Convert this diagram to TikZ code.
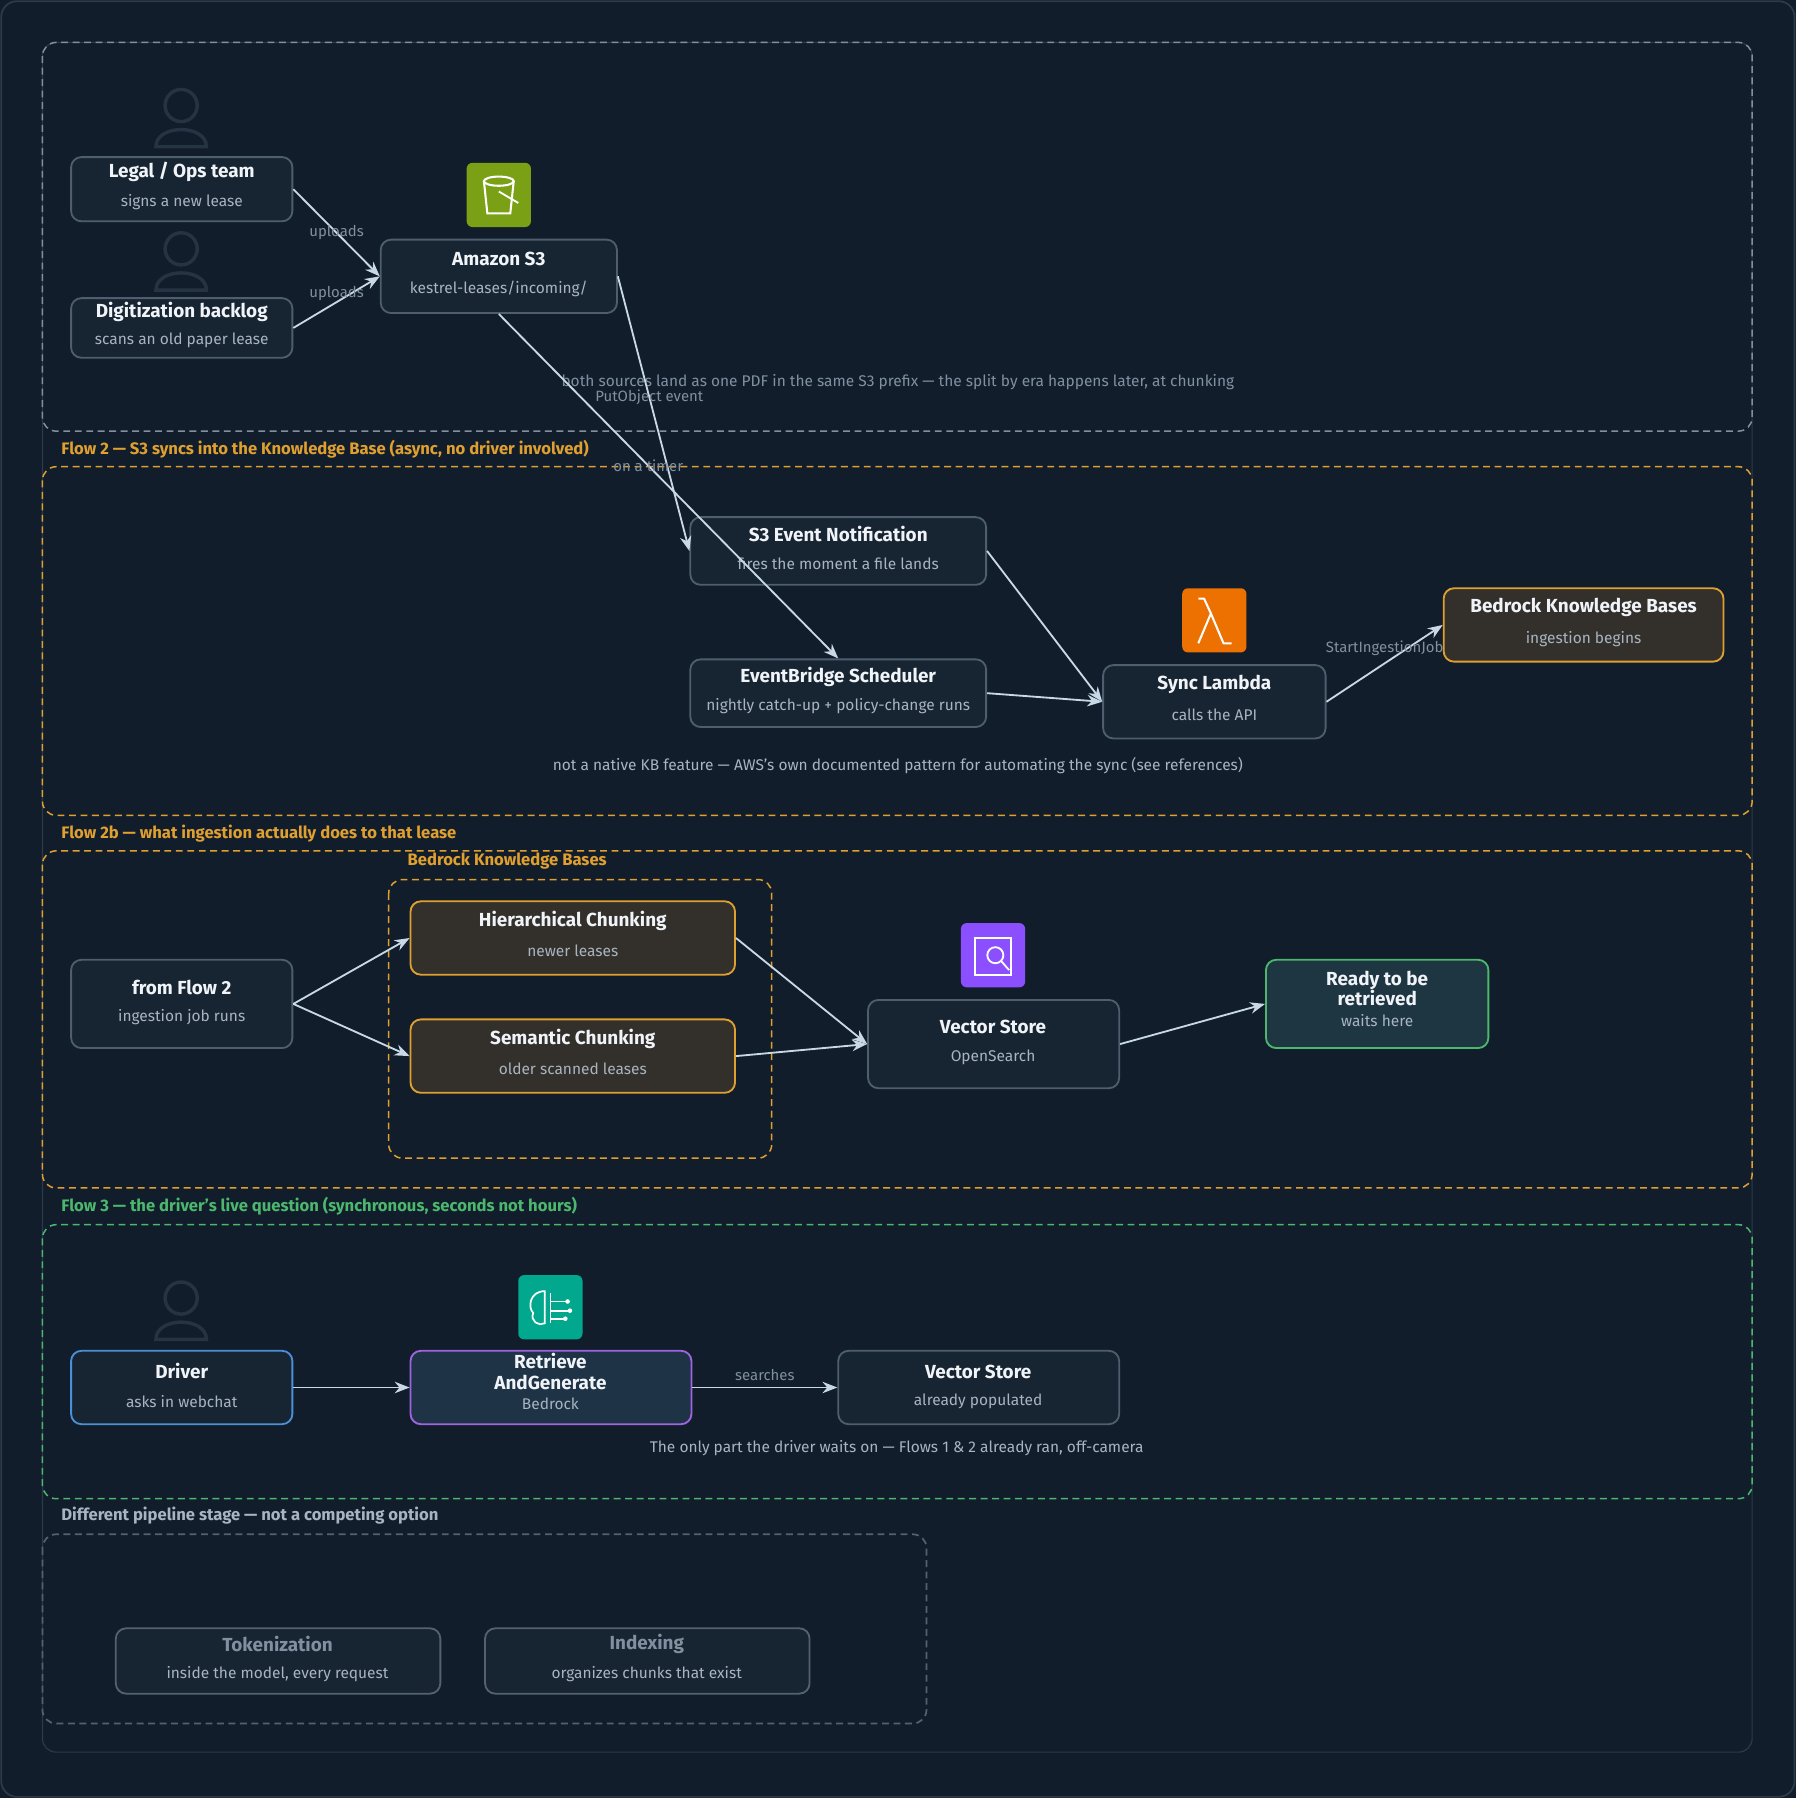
\documentclass[tikz,border=0pt]{standalone}
\usepackage{fontspec}
\setmainfont{Fira Sans}
\usetikzlibrary{arrows.meta,positioning}
\definecolor{bg}{HTML}{111D2B}
\definecolor{nfill}{HTML}{172431}
\definecolor{nbord}{HTML}{4E5E6E}
\definecolor{tw}{HTML}{F0F4F8}
\definecolor{tsub}{HTML}{A8B4C0}
\definecolor{org}{HTML}{E0A030}
\definecolor{grn}{HTML}{4CB86E}
\definecolor{blu}{HTML}{4A90D9}
\definecolor{pur}{HTML}{A064E0}
\definecolor{edge}{HTML}{C8D8E4}
\definecolor{dim}{HTML}{2C3A4A}
\definecolor{pdim}{HTML}{253342}
\definecolor{lbl}{HTML}{8090A0}
\definecolor{brn}{HTML}{33302C}
\tikzset{
 box/.style={draw=nbord,fill=nfill,line width=1.6pt,rounded corners=9pt,inner sep=0pt},
 ob/.style={box,draw=org,fill=brn},
 ttl/.style={text=tw,font=\fontsize{16.5}{18}\selectfont\bfseries,align=center},
 sub/.style={text=tsub,font=\fontsize{13.5}{15}\selectfont},
 frm/.style={dashed,dash pattern=on 6pt off 4pt,line width=1.3pt,rounded corners=12pt},
 flab/.style={anchor=west,font=\fontsize{14.5}{16}\selectfont\bfseries},
 arr/.style={draw=edge,line width=1.6pt,-{Stealth[length=13pt,width=10pt]}},
 el/.style={text=lbl,font=\fontsize{13}{15}\selectfont},
 note/.style={text=tsub,font=\fontsize{13.5}{15}\selectfont},
 person/.style={draw=pdim,line width=3pt},
}
\newcommand{\mybox}[7]{% name, style, x1,y1,x2,y2, title/sub
 \node[#2,minimum width={(#5-#3)*1pt},minimum height={(#6-#4)*1pt}] (#1) at ({(#3+#5)/2},{(#4+#6)/2}) {};
 #7}
\newcommand{\myperson}[3]{%
 \draw[person] (#2,#3-10) circle (14pt);
 \draw[person] (#2-22,#3+26) .. controls (#2-22,#3+6) and (#2+22,#3+6) .. (#2+22,#3+26) -- cycle;
 \coordinate (#1) at (#2,#3);}
\begin{document}
\begin{tikzpicture}[x=1pt,y=-1pt]
\useasboundingbox (0,0) rectangle (1566,1568);
\fill[bg] (0,0) rectangle (1566,1568);
\draw[dim,line width=1.5pt,rounded corners=14pt] (1,1) rectangle (1565,1567);
\draw[dim,line width=1pt,rounded corners=12pt] (37,37) rectangle (1528,1528);

% frames
\draw[frm,draw=lbl] (37,37) rectangle (1528,376);
\node[flab,text=org] (f2l) at (50,392) {Flow 2 — S3 syncs into the Knowledge Base (async, no driver involved)};
\draw[frm,draw=org] (37,407) rectangle (1528,711);
\node[flab,text=org] (f2bl) at (50,727) {Flow 2b — what ingestion actually does to that lease};
\draw[frm,draw=org] (37,742) rectangle (1528,1036);
\draw[frm,draw=org] (339,767) rectangle (673,1010);
\node[flab,text=org] (bkbl) at (352,751) {Bedrock Knowledge Bases};
\node[flab,text=grn] (f3l) at (50,1052) {Flow 3 — the driver’s live question (synchronous, seconds not hours)};
\draw[frm,draw=grn] (37,1068) rectangle (1528,1307);
\node[flab,text=tsub] (dpl) at (50,1322) {Different pipeline stage — not a competing option};
\draw[frm,draw=dim!80!white,line width=1.5pt] (37,1338) rectangle (808,1503);

% persons
\myperson{p1}{158}{102}
\myperson{p2}{158}{227}
\myperson{p3}{158}{1142}

% icons
\node[fill={rgb,255:red,122;green,161;blue,22},rounded corners=5pt,minimum size=56pt] (s3i) at (435,170) {};
\draw[white,line width=1.8pt] (422,158) -- (425,186) -- (445,186) -- (448,158);
\draw[white,line width=1.8pt] (435,158) ellipse (13pt and 4pt);
\draw[white,line width=1.6pt] (435,167) -- (452,177);
\node[fill={rgb,255:red,237;green,113;blue,0},rounded corners=5pt,minimum size=56pt] (lmi) at (1059,541) {};
\draw[white,line width=1.8pt,line join=round] (1045,561) -- (1056,535) -- (1050,522) -- (1045,522) (1056,535) -- (1067,561) -- (1074,561);
\node[fill={rgb,255:red,140;green,79;blue,255},rounded corners=5pt,minimum size=56pt] (vsi) at (866,833) {};
\draw[white,line width=1.6pt] (850,818) rectangle (882,850);
\draw[white,line width=1.6pt] (868,833) circle (7pt) (873,838) -- (880,846);
\node[fill={rgb,255:red,1;green,168;blue,141},rounded corners=5pt,minimum size=56pt] (bri) at (480,1140) {};
\draw[white,line width=1.5pt] (475,1126) .. controls (462,1126) and (460,1140) .. (465,1145) .. controls (462,1152) and (470,1157) .. (475,1154) -- cycle;
\draw[white,line width=1.5pt] (480,1128) -- (480,1154) (480,1135) -- (495,1135) (480,1143) -- (497,1143) (480,1150) -- (493,1150);
\foreach \yy/\xx in {1135/495,1143/497,1150/493}{\fill[white] (\xx,\yy) circle (2pt);}

% nodes
\mybox{legal}{box}{62}{137}{255}{193}{\node[ttl] at (158.5,150) {Legal / Ops team}; \node[sub] at (158.5,176) {signs a new lease};}
\mybox{digit}{box}{62}{260}{255}{312}{\node[ttl] at (158.5,272) {Digitization backlog}; \node[sub] at (158.5,297) {scans an old paper lease};}
\mybox{s3}{box}{332}{209}{538}{273}{\node[ttl] at (435,226) {Amazon S3}; \node[sub] at (435,252) {kestrel-leases/incoming/};}
\mybox{evn}{box}{602}{451}{860}{510}{\node[ttl] at (731,466) {S3 Event Notification}; \node[sub] at (731,492) {fires the moment a file lands};}
\mybox{ebs}{box}{602}{575}{860}{634}{\node[ttl] at (731,590) {EventBridge Scheduler}; \node[sub] at (731,616) {nightly catch-up + policy-change runs};}
\mybox{sync}{box}{962}{580}{1156}{644}{\node[ttl] at (1059,597) {Sync Lambda}; \node[sub] at (1059,623) {calls the API};}
\mybox{bkb}{ob}{1259}{513}{1503}{577}{\node[ttl] at (1381,530) {Bedrock Knowledge Bases}; \node[sub] at (1381,557) {ingestion begins};}
\mybox{ff2}{box}{62}{837}{255}{914}{\node[ttl] at (158.5,861) {from Flow 2}; \node[sub] at (158.5,887) {ingestion job runs};}
\mybox{hier}{ob}{358}{786}{641}{850}{\node[ttl] at (499.5,803) {Hierarchical Chunking}; \node[sub] at (499.5,829) {newer leases};}
\mybox{sem}{ob}{358}{889}{641}{953}{\node[ttl] at (499.5,906) {Semantic Chunking}; \node[sub] at (499.5,932) {older scanned leases};}
\mybox{vs}{box}{757}{872}{976}{949}{\node[ttl] at (866,896) {Vector Store}; \node[sub] at (866,922) {OpenSearch};}
\mybox{ready}{box,draw=grn,fill={rgb,255:red,30;green,54;blue,66}}{1104}{837}{1298}{914}{\node[ttl] at (1201,862) {Ready to be\\retrieved}; \node[sub] at (1201,890) {waits here};}
\mybox{drv}{box,draw=blu}{62}{1178}{255}{1242}{\node[ttl] at (158.5,1196) {Driver}; \node[sub] at (158.5,1222) {asks in webchat};}
\mybox{rag}{box,draw=pur,fill={rgb,255:red,30;green,51;blue,70}}{358}{1178}{603}{1242}{\node[ttl] at (480,1196) {Retrieve\\AndGenerate}; \node[sub] at (480,1224) {Bedrock};}
\mybox{vs2}{box}{731}{1178}{976}{1242}{\node[ttl] at (853,1196) {Vector Store}; \node[sub] at (853,1222) {already populated};}
\mybox{tok}{box,draw=dim!80!white}{101}{1420}{384}{1477}{\node[ttl,text=lbl] at (242,1434) {Tokenization}; \node[sub] at (242,1460) {inside the model, every request};}
\mybox{idx}{box,draw=dim!80!white}{423}{1420}{706}{1477}{\node[ttl,text=lbl] at (564,1434) {Indexing}; \node[sub] at (564,1460) {organizes chunks that exist};}

% notes
\node[note,text=lbl] (n1) at (783,333) {both sources land as one PDF in the same S3 prefix — the split by era happens later, at chunking};
\node[note,text=tsub] (n2) at (783,668) {not a native KB feature — AWS’s own documented pattern for automating the sync (see references)};
\node[note,text=tsub] (n3) at (782,1263) {The only part the driver waits on — Flows 1 \& 2 already ran, off-camera};

% edges
\draw[arr] (legal.east) -- (s3.west) node[el,pos=0.5] {uploads};
\draw[arr] (digit.east) -- (s3.west) node[el,pos=0.5,above=-3pt] {uploads};
\draw[arr] (s3.east) -- (evn.west) node[el,pos=0.44] {PutObject event};
\draw[arr] (s3.south) -- (ebs.north) node[el,pos=0.44] {on a timer};
\draw[arr] (evn.east) -- (sync.west);
\draw[arr] (ebs.east) -- (sync.west);
\draw[arr] (sync.east) -- (bkb.west) node[el,pos=0.5,above=3pt] {StartIngestionJob};
\draw[arr] (ff2.east) -- (hier.west);
\draw[arr] (ff2.east) -- (sem.west);
\draw[arr] (hier.east) -- (vs.west);
\draw[arr] (sem.east) -- (vs.west);
\draw[arr] (vs.east) -- (ready.west);
\draw[arr] (drv.east) -- (rag.west);
\draw[arr] (rag.east) -- (vs2.west) node[el,pos=0.5,above=2pt] {searches};
\end{tikzpicture}
\end{document}
